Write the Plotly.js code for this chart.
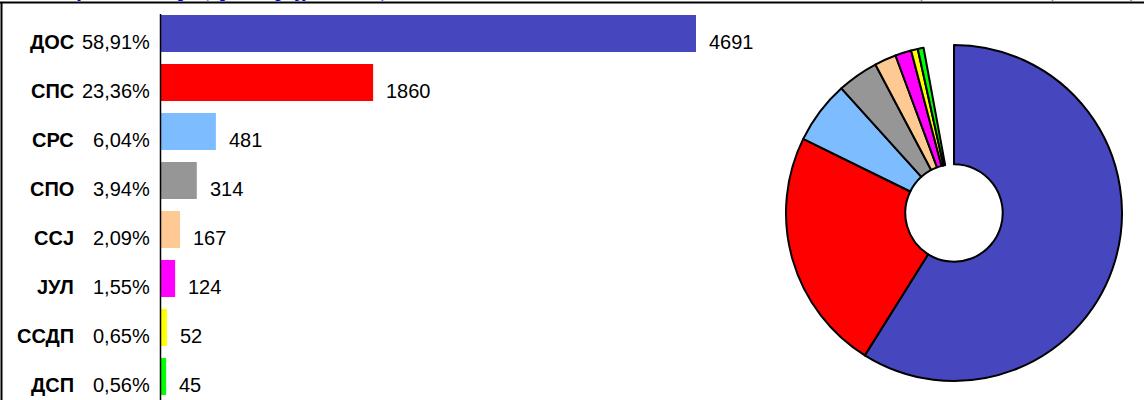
<!DOCTYPE html>
<html>
<head>
<meta charset="utf-8">
<script src="https://cdn.plot.ly/plotly-3.0.1.min.js"></script>
<style>html,body{margin:0;padding:0;background:#fff;overflow:hidden}#chart{width:1144px;height:400px}</style>
</head>
<body>
<div id="chart"></div>
<script>
// ---- data ----
const parties = ['ДОС', 'СПС', 'СРС', 'СПО', 'ССЈ', 'ЈУЛ', 'ССДП', 'ДСП'];
const votes = [4691, 1860, 481, 314, 167, 124, 52, 45];
const percents = [58.91, 23.36, 6.04, 3.94, 2.09, 1.55, 0.65, 0.56];
const otherLabel = 'Остали';
const titleText = 'Резултати избора (према броју гласова)';
const sourceText = 'Извор: Општинска изборна комисија';

// ---- style ----
const colors = ['#4646BE', '#FF0000', '#7CBCFF', '#969696', '#FFC993', '#FF00FF', '#FFFF00', '#00FF00'];
const W = 1144, H = 400;
const px = v => v / W;
const py = v => 1 - v / H;
const sans = 'Liberation Sans, Arial, sans-serif';
const FS = 20;

const pctLabels = percents.map(p => p.toFixed(2).replace('.', ',') + '%');
const otherPct = Math.round((100 - percents.reduce((a, b) => a + b, 0)) * 100) / 100;

const barTrace = {
  type: 'bar',
  orientation: 'h',
  y: parties,
  x: votes,
  marker: { color: colors, line: { width: 0 } },
  width: 0.755,
  hoverinfo: 'none',
  xaxis: 'x', yaxis: 'y'
};

const pieTrace = {
  type: 'pie',
  labels: parties.concat([otherLabel]),
  values: percents.concat([otherPct]),
  sort: false,
  direction: 'clockwise',
  rotation: 0,
  hole: 0.29,
  textinfo: 'none',
  hoverinfo: 'none',
  showlegend: false,
  marker: {
    colors: colors.concat(['rgba(255,255,255,0)']),
    line: { color: parties.map(() => '#000').concat(['rgba(0,0,0,0)']), width: parties.map(() => 2).concat([0]) }
  },
  domain: { x: [px(786), px(1122)], y: [19 / H, 355 / H] }
};

const annotations = [];
parties.forEach((p, i) => {
  annotations.push({
    xref: 'paper', yref: 'y', x: px(76), y: p, xanchor: 'right', yanchor: 'middle',
    text: '<b>' + p + '</b>', showarrow: false, yshift: -9,
    font: { family: sans, size: FS, color: '#000' }
  });
  annotations.push({
    xref: 'paper', yref: 'y', x: px(152), y: p, xanchor: 'right', yanchor: 'middle',
    text: pctLabels[i], showarrow: false, yshift: -9,
    font: { family: sans, size: FS, color: '#000' }
  });
  annotations.push({
    xref: 'x', yref: 'y', x: votes[i], y: p, xanchor: 'left', yanchor: 'middle',
    text: String(votes[i]), showarrow: false, yshift: -9, xshift: 11,
    font: { family: sans, size: FS, color: '#000' }
  });
});
annotations.push({
  xref: 'paper', yref: 'paper', x: px(48), y: py(4.5), xanchor: 'left', yanchor: 'bottom',
  text: '<b>' + titleText + '</b>', showarrow: false,
  font: { family: 'Liberation Serif, Times New Roman, serif', size: 19, color: '#0000FF' }
});
annotations.push({
  xref: 'paper', yref: 'paper', x: px(1144), y: py(4), xanchor: 'right', yanchor: 'bottom',
  text: sourceText, showarrow: false,
  font: { family: sans, size: 15, color: '#808080' }
});

const layout = {
  width: W, height: H,
  margin: { l: 0, r: 0, t: 0, b: 0 },
  paper_bgcolor: '#fff', plot_bgcolor: 'rgba(0,0,0,0)',
  showlegend: false,
  xaxis: {
    domain: [px(161), px(761)], range: [0, 600 / (535 / 4691)],
    showgrid: false, zeroline: false, showline: false, showticklabels: false, ticks: '', fixedrange: true
  },
  yaxis: {
    type: 'category', categoryarray: parties, domain: [0, py(9)],
    range: [7.48, -0.5], autorange: false,
    showgrid: false, zeroline: false, showline: false, showticklabels: false, ticks: '', fixedrange: true
  },
  annotations: annotations,
  shapes: [
    { type: 'line', xref: 'paper', yref: 'paper', x0: 0, x1: 1, y0: py(2.5), y1: py(2.5), line: { color: '#000', width: 2 } },
    { type: 'line', xref: 'paper', yref: 'paper', x0: px(1.5), x1: px(1.5), y0: py(2), y1: 0, line: { color: '#000', width: 2 } },
    { type: 'line', xref: 'paper', yref: 'paper', x0: px(160.5), x1: px(160.5), y0: py(14), y1: 0, line: { color: '#000', width: 1.5 } }
  ]
};

Plotly.newPlot('chart', [barTrace, pieTrace], layout, { staticPlot: true, displayModeBar: false });
</script>
</body>
</html>
